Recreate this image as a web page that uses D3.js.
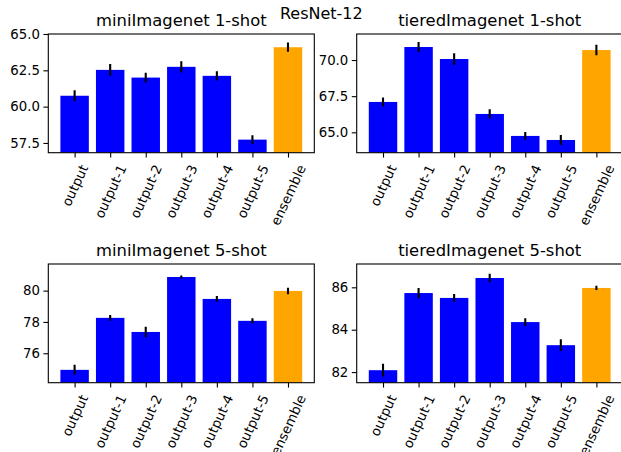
<!DOCTYPE html>
<html><head><meta charset="utf-8">
<script src="https://cdn.jsdelivr.net/npm/d3@7"></script>
<style>
html,body{margin:0;padding:0;background:#fff;}
svg{display:block;font-family:"DejaVu Sans",sans-serif;}
</style></head>
<body>
<svg id="chart" width="621" height="452"></svg>
<script>
const categories = ["output","output-1","output-2","output-3","output-4","output-5","ensemble"];
const barColors = ["#0000ff","#0000ff","#0000ff","#0000ff","#0000ff","#0000ff","#ffa500"];
const suptitle = "ResNet-12";

const titles = ["miniImagenet 1-shot","tieredImagenet 1-shot","miniImagenet 5-shot","tieredImagenet 5-shot"];

const mini1 = [60.75, 62.53, 62.0, 62.74, 62.12, 57.73, 64.09];
const mini1Err = [0.37, 0.40, 0.34, 0.39, 0.32, 0.30, 0.32];
const tiered1 = [67.1, 70.9, 70.07, 66.27, 64.75, 64.47, 70.69];
const tiered1Err = [0.30, 0.35, 0.40, 0.32, 0.27, 0.35, 0.36];
const mini5 = [74.94, 78.26, 77.36, 80.87, 79.47, 78.07, 79.98];
const mini5Err = [0.32, 0.18, 0.33, 0.10, 0.18, 0.16, 0.21];
const tiered5 = [82.09, 85.73, 85.5, 86.44, 84.36, 83.27, 85.97];
const tiered5Err = [0.30, 0.24, 0.18, 0.20, 0.18, 0.28, 0.10];

const mini1Ticks = [57.5, 60.0, 62.5, 65.0];
const tiered1Ticks = [65.0, 67.5, 70.0];
const mini5Ticks = [76, 78, 80];
const tiered5Ticks = [82, 84, 86];

const yDomains = [[56.83, 65.0], [63.59, 71.8], [74.12, 81.7], [81.5, 87.1]];
const tickFormats = [".1f", ".1f", "d", "d"];

const panels = [
  {vals: mini1, errs: mini1Err, ticks: mini1Ticks, x0: 48.3, y0: 34, title: titles[0]},
  {vals: tiered1, errs: tiered1Err, ticks: tiered1Ticks, x0: 356.7, y0: 34, title: titles[1]},
  {vals: mini5, errs: mini5Err, ticks: mini5Ticks, x0: 48.3, y0: 264, title: titles[2]},
  {vals: tiered5, errs: tiered5Err, ticks: tiered5Ticks, x0: 356.7, y0: 264, title: titles[3]}
];
const W = 266, H = 118.7;
const svg = d3.select("#chart");

svg.append("text").attr("x", 321.3).attr("y", 18.5).attr("text-anchor", "middle")
  .attr("font-size", "16px").attr("fill", "#000").text(suptitle);

panels.forEach((p, pi) => {
  const g = svg.append("g").attr("transform", `translate(${p.x0},${p.y0})`);
  const x = d3.scaleLinear().domain([-0.74, 6.74]).range([0, W]);
  const y = d3.scaleLinear().domain(yDomains[pi]).range([H, 0]);
  const bw = x(0.4) - x(-0.4);

  const clipId = "clip" + pi;
  g.append("clipPath").attr("id", clipId).append("rect").attr("x", 0).attr("y", 0).attr("width", W).attr("height", H);
  const plot = g.append("g").attr("clip-path", `url(#${clipId})`);

  plot.selectAll("rect.bar").data(p.vals).enter().append("rect").attr("class", "bar")
    .attr("x", (d, i) => x(i) - bw / 2).attr("width", bw)
    .attr("y", d => y(d)).attr("height", d => H - y(d))
    .attr("fill", (d, i) => barColors[i]);

  plot.selectAll("line.err").data(p.vals).enter().append("line").attr("class", "err")
    .attr("x1", (d, i) => x(i)).attr("x2", (d, i) => x(i))
    .attr("y1", (d, i) => y(d - p.errs[i])).attr("y2", (d, i) => y(d + p.errs[i]))
    .attr("stroke", "#000").attr("stroke-width", 2.1);

  // y axis
  const yAxis = d3.axisLeft(y).tickValues(p.ticks).tickFormat(d3.format(tickFormats[pi]))
    .tickSize(4.9).tickPadding(3.5);
  const ya = g.append("g").call(yAxis);
  ya.select(".domain").remove();
  ya.selectAll("line").attr("stroke", "#000").attr("stroke-width", 1.1);
  ya.selectAll("text").attr("font-size", "13.3px").attr("fill", "#000")
    .attr("font-family", "DejaVu Sans");

  // x axis
  const xAxis = d3.axisBottom(x).tickValues(d3.range(categories.length))
    .tickFormat(i => categories[i]).tickSize(4.9).tickPadding(4.9);
  const xa = g.append("g").attr("transform", `translate(0,${H})`).call(xAxis);
  xa.select(".domain").remove();
  xa.selectAll("line").attr("stroke", "#000").attr("stroke-width", 1.1);
  xa.selectAll(".tick text").each(function () {
    const t = d3.select(this);
    t.attr("font-size", "13.3px").attr("fill", "#000").attr("font-family", "DejaVu Sans")
      .attr("text-anchor", "middle").attr("dy", "0.35em").attr("y", 0)
      .attr("transform", "rotate(-65)");
    const gg = this.parentNode.appendChild(document.createElementNS("http://www.w3.org/2000/svg", "g"));
    gg.appendChild(this);
    const bb = gg.getBBox();
    const top = 9.8;
    d3.select(gg).attr("transform", `translate(${-(bb.x + bb.width / 2)},${top - bb.y})`);
  });

  // spines
  g.append("rect").attr("x", 0).attr("y", 0).attr("width", W).attr("height", H)
    .attr("fill", "none").attr("stroke", "#000").attr("stroke-width", 1.1);

  // title
  g.append("text").attr("x", W / 2).attr("y", -8.3).attr("text-anchor", "middle")
    .attr("font-size", "16.4px").attr("fill", "#000").text(p.title);
});
</script>
</body></html>
